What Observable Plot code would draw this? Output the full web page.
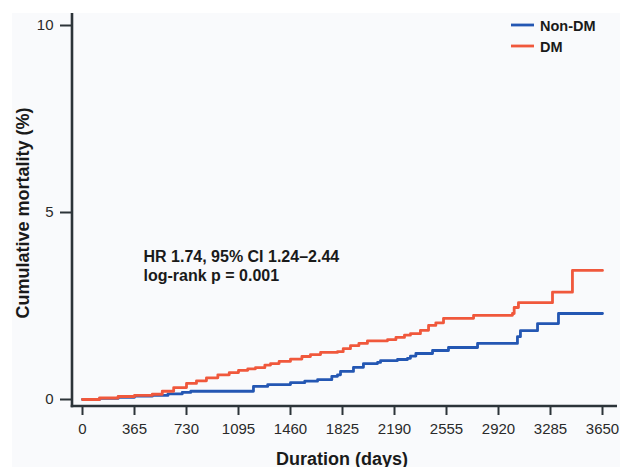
<!DOCTYPE html>
<html>
<head>
<meta charset="utf-8">
<script src="https://cdn.jsdelivr.net/npm/d3@7"></script>
<script src="https://cdn.jsdelivr.net/npm/@observablehq/plot@0.6"></script>
<style>
  html, body { margin: 0; padding: 0; background: #ffffff; }
  body { width: 620px; height: 467px; position: relative; overflow: hidden; font-family: "Liberation Sans", Arial, Helvetica, sans-serif; }
  #panel { position: absolute; left: 12px; top: 13px; width: 608px; height: 454px; background: #f9fafc; }
  #legend { position: absolute; left: 505px; top: 13px; }
</style>
</head>
<body>
<div id="panel"></div>
<svg id="legend" width="110" height="45"></svg>
<script>
// ---- data ----
const xTicks = [0, 365, 730, 1095, 1460, 1825, 2190, 2555, 2920, 3285, 3650];
const yTicks = [0, 5, 10];
const seriesNames = ["Non-DM", "DM"];
const seriesColors = ["#2457b3", "#f0583c"];

const nonDmDays = [0, 120, 250, 365, 490, 600, 700, 760, 1200, 1300, 1460, 1560, 1650, 1750, 1790, 1811, 1902, 1972, 2071, 2092, 2211, 2281, 2302, 2340, 2457, 2569, 2773, 3053, 3074, 3194, 3341, 3650];
const nonDmRisk = [0, 0.03, 0.06, 0.09, 0.11, 0.15, 0.19, 0.22, 0.35, 0.40, 0.45, 0.49, 0.53, 0.62, 0.66, 0.75, 0.86, 0.96, 0.99, 1.04, 1.07, 1.10, 1.16, 1.23, 1.31, 1.39, 1.50, 1.68, 1.84, 2.03, 2.30, 2.30];

const dmDays = [0, 120, 250, 365, 490, 560, 640, 730, 800, 870, 950, 1030, 1095, 1160, 1214, 1280, 1320, 1380, 1460, 1540, 1600, 1671, 1790, 1830, 1881, 1940, 2000, 2141, 2200, 2260, 2302, 2372, 2429, 2480, 2534, 2745, 3018, 3030, 3060, 3299, 3439, 3650];
const dmRisk = [0, 0.04, 0.08, 0.11, 0.14, 0.22, 0.32, 0.43, 0.50, 0.58, 0.66, 0.72, 0.78, 0.82, 0.85, 0.92, 0.96, 1.02, 1.08, 1.15, 1.20, 1.26, 1.28, 1.36, 1.44, 1.50, 1.57, 1.60, 1.66, 1.72, 1.76, 1.85, 1.98, 2.05, 2.17, 2.25, 2.30, 2.46, 2.59, 2.87, 3.45, 3.45];

const yTitle = ["Cumulative mortality (%)"];
const xTitle = ["Duration (days)"];
const annotation = ["HR 1.74, 95% CI 1.24\u20132.44\nlog-rank p = 0.001"];

// ---- build tables ----
const nonDm = nonDmDays.map((d, i) => ({day: d, risk: nonDmRisk[i], group: seriesNames[0]}));
const dm = dmDays.map((d, i) => ({day: d, risk: dmRisk[i], group: seriesNames[1]}));

const axisColor = "#2c3439";
const font = "'Liberation Sans', Arial, Helvetica, sans-serif";

const chart = Plot.plot({
  width: 608,
  height: 454,
  marginLeft: 60,
  marginRight: 3,
  marginTop: 0,
  marginBottom: 61,
  style: {background: "transparent", fontFamily: font, overflow: "visible"},
  x: {domain: [0, 3650], insetLeft: 10, insetRight: 15, axis: null},
  y: {domain: [0, 10], insetTop: 12, insetBottom: 7, axis: null},
  marks: [
    Plot.axisY({ticks: yTicks, tickSize: 12, tickPadding: 7, stroke: axisColor, strokeWidth: 2, fill: "#2a2a2a", fontSize: 15, label: null}),
    Plot.axisX({ticks: xTicks, tickFormat: d => String(d), tickSize: 9, tickPadding: 8, stroke: axisColor, strokeWidth: 2, fill: "#2a2a2a", fontSize: 15, label: null}),
    Plot.line(nonDm, {x: "day", y: "risk", curve: "step-after", stroke: seriesColors[0], strokeWidth: 2.8}),
    Plot.line(dm, {x: "day", y: "risk", curve: "step-after", stroke: seriesColors[1], strokeWidth: 2.8}),
    Plot.text(annotation, {frameAnchor: "top-left", dx: 71, dy: 234.6, lineAnchor: "top", textAnchor: "start", lineHeight: 1.2, fontSize: 16, fontWeight: "bold", fill: "#1a1a1a"}),
    Plot.text(yTitle, {frameAnchor: "left", rotate: -90, dx: -44, dy: 3, lineAnchor: "bottom", textAnchor: "middle", fontSize: 18, fontWeight: "bold", fill: "#1a1a1a"}),
    Plot.text(xTitle, {frameAnchor: "bottom", dx: -3, dy: 58, lineAnchor: "bottom", textAnchor: "middle", fontSize: 18, fontWeight: "bold", fill: "#1a1a1a"})
  ]
});
document.getElementById("panel").appendChild(chart);

const svg = d3.select(chart);
// thicker tick strokes
svg.selectAll('g[aria-label$="tick"]').attr("stroke-width", 2).selectAll("path").attr("stroke-width", 2);

// axis lines drawn at the frame edges
const fl = 60, fb = 454 - 61, fr = 608 - 3;
svg.append("line").attr("x1", fl).attr("x2", fl).attr("y1", 0).attr("y2", fb + 1.3).attr("stroke", axisColor).attr("stroke-width", 2.6);
svg.append("line").attr("x1", fl - 1.3).attr("x2", fr).attr("y1", fb).attr("y2", fb).attr("stroke", axisColor).attr("stroke-width", 2.6);

// legend
const leg = d3.select("#legend");
seriesNames.forEach((name, i) => {
  const y = 12 + i * 21;
  leg.append("line").attr("x1", 6).attr("x2", 29).attr("y1", y).attr("y2", y).attr("stroke", seriesColors[i]).attr("stroke-width", 2.8);
  leg.append("text").attr("x", 35).attr("y", y + 6).attr("font-family", font).attr("font-size", 14.5).attr("font-weight", "bold").attr("fill", "#1a1a1a").text(name);
});
</script>
</body>
</html>
